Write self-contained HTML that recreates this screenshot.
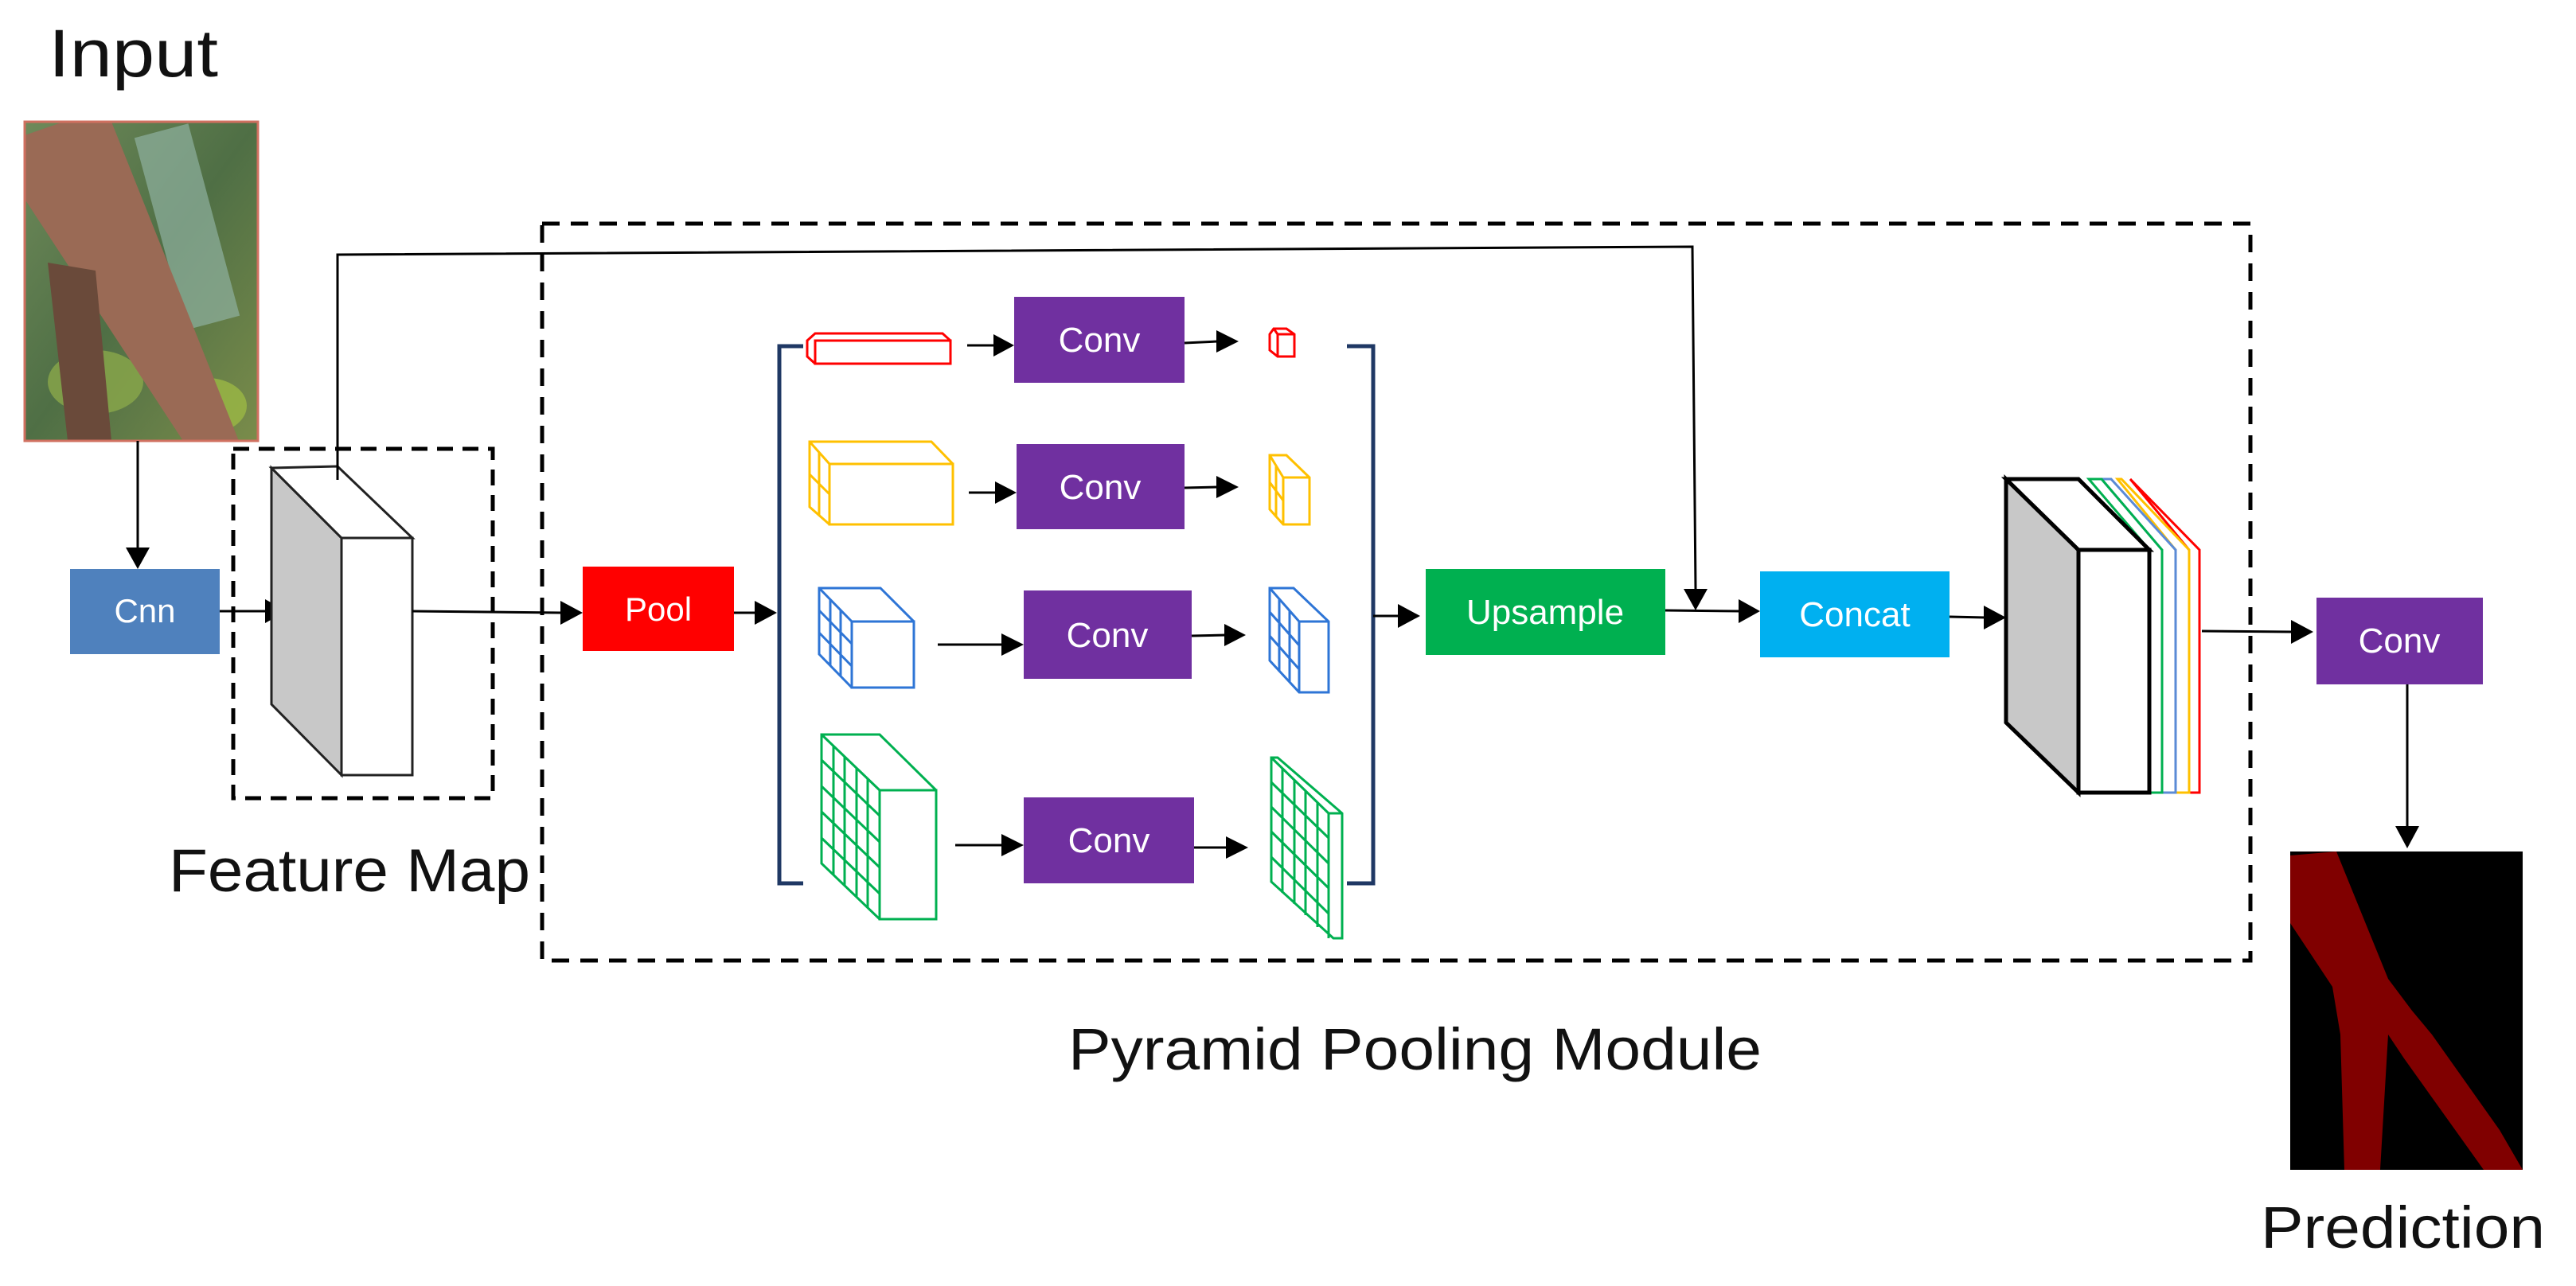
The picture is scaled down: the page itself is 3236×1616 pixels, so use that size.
<!DOCTYPE html>
<html><head><meta charset="utf-8"><style>
html,body{margin:0;padding:0;background:#fff;}
svg{display:block;}
text{font-family:"Liberation Sans",sans-serif;}
</style></head><body>
<svg width="3236" height="1616" viewBox="0 0 3236 1616" xmlns="http://www.w3.org/2000/svg">
<defs>
<linearGradient id="bg" x1="0" y1="0" x2="1" y2="1">
<stop offset="0" stop-color="#6f8a5a"/><stop offset="0.5" stop-color="#4f6f45"/><stop offset="1" stop-color="#7a8c4a"/>
</linearGradient>
</defs>
<!-- Labels -->
<text x="61" y="96" font-size="84" fill="#111" textLength="213" lengthAdjust="spacingAndGlyphs">Input</text>
<text x="212" y="1120" font-size="76" fill="#111" textLength="454" lengthAdjust="spacingAndGlyphs">Feature Map</text>
<text x="1342" y="1344" font-size="74" fill="#111" textLength="871" lengthAdjust="spacingAndGlyphs">Pyramid Pooling Module</text>
<text x="2840" y="1568" font-size="74" fill="#111" textLength="357" lengthAdjust="spacingAndGlyphs">Prediction</text>

<!-- Input image -->
<rect x="31" y="153" width="293" height="401" fill="url(#bg)"/>
<rect x="200" y="160" width="70" height="250" fill="#8fb0a0" opacity="0.7" transform="rotate(-15 235 285)"/>
<ellipse cx="120" cy="480" rx="60" ry="40" fill="#8aa84a" opacity="0.8"/>
<ellipse cx="260" cy="510" rx="50" ry="35" fill="#9bb845" opacity="0.8"/>
<polygon points="31,170 80,153 140,153 300,554 230,554 31,250" fill="#9a6a55"/>
<polygon points="60,330 120,340 140,554 85,554" fill="#6a4a3a"/>
<rect x="31" y="153" width="293" height="401" fill="none" stroke="#d07060" stroke-width="3"/>

<!-- arrow input -> cnn -->
<line x1="173" y1="554" x2="173" y2="690" stroke="#000" stroke-width="3"/>
<polygon points="158,688 188,688 173,715" fill="#000"/>
<rect x="88" y="715" width="188" height="107" fill="#4f81bd"/>
<text x="182" y="782" font-size="42" fill="#fff" text-anchor="middle">Cnn</text>
<line x1="276" y1="768" x2="335" y2="768" stroke="#000" stroke-width="3"/>
<polygon points="333,753 333,783 360,768" fill="#000"/>

<!-- feature map box -->
<rect x="293" y="564" width="326" height="439" fill="none" stroke="#000" stroke-width="5" stroke-dasharray="20,12"/>
<polygon points="341,588 429,676 429,974 341,885" fill="#c8c8c8" stroke="#222" stroke-width="3"/>
<polygon points="341,588 424,586 518,676 429,676" fill="#fff" stroke="#222" stroke-width="3"/>
<rect x="429" y="676" width="89" height="298" fill="#fff" stroke="#222" stroke-width="3"/>

<!-- skip connection -->
<polyline points="424,603 424,320 2126,310 2130,740" fill="none" stroke="#000" stroke-width="3"/>
<polygon points="2115,740 2145,740 2130,767" fill="#000"/>

<!-- big dashed box -->
<rect x="681" y="281" width="2146" height="926" fill="none" stroke="#000" stroke-width="5" stroke-dasharray="22,14"/>

<!-- block -> pool -->
<line x1="518" y1="768" x2="706" y2="770" stroke="#000" stroke-width="3"/>
<polygon points="704,755 704,785 732,770" fill="#000"/>
<rect x="732" y="712" width="190" height="106" fill="#ff0000"/>
<text x="827" y="780" font-size="42" fill="#fff" text-anchor="middle">Pool</text>
<line x1="922" y1="770" x2="950" y2="770" stroke="#000" stroke-width="3"/>
<polygon points="948,755 948,785 976,770" fill="#000"/>

<!-- brackets -->
<polyline points="1009,435 979,435 979,1110 1009,1110" fill="none" stroke="#1f3864" stroke-width="5"/>
<polyline points="1692,435 1725,435 1725,1110 1692,1110" fill="none" stroke="#1f3864" stroke-width="5"/>
<line x1="1725" y1="774" x2="1758" y2="774" stroke="#000" stroke-width="3"/>
<polygon points="1756,759 1756,789 1784,774" fill="#000"/>

<!-- row 1 red -->
<g fill="none" stroke="#ff0000" stroke-width="3">
<polygon points="1014,428 1024,419 1184,419 1194,428 1194,457 1024,457 1014,448"/>
<rect x="1024" y="428" width="170" height="29"/>
<polygon points="1595,420 1600,413 1616,413 1626,420 1626,448 1605,448 1595,440"/>
<line x1="1605" y1="420" x2="1626" y2="420"/><line x1="1605" y1="420" x2="1605" y2="448"/><line x1="1600" y1="413" x2="1605" y2="420"/>
</g>
<!-- row 2 yellow -->
<g fill="none" stroke="#ffc000" stroke-width="3">
<polygon points="1017,555 1170,555 1197,583 1197,659 1042,659 1017,637"/>
<rect x="1042" y="583" width="155" height="76"/>
<line x1="1017" y1="555" x2="1042" y2="583"/>
<line x1="1017" y1="596" x2="1042" y2="621"/>
<line x1="1029" y1="569" x2="1029" y2="648"/>
<polygon points="1595,572 1616,572 1645,600 1645,659 1612,659 1595,640"/>
<line x1="1612" y1="600" x2="1645" y2="600"/><line x1="1612" y1="600" x2="1612" y2="659"/><line x1="1595" y1="572" x2="1612" y2="600"/>
<line x1="1595" y1="606" x2="1612" y2="629"/><line x1="1603" y1="586" x2="1603" y2="650"/>
</g>
<!-- row 3 blue -->
<g fill="none" stroke="#2e75d6" stroke-width="3">
<polygon points="1029,739 1106,739 1148,781 1148,864 1070,864 1029,822"/>
<rect x="1070" y="781" width="78" height="83"/>
<line x1="1029" y1="739" x2="1070" y2="781"/>
<line x1="1029" y1="767" x2="1070" y2="809"/><line x1="1029" y1="795" x2="1070" y2="837"/>
<line x1="1043" y1="753" x2="1043" y2="836"/><line x1="1056" y1="767" x2="1056" y2="850"/>
<polygon points="1595,739 1625,739 1669,781 1669,870 1632,870 1595,830"/>
<line x1="1632" y1="781" x2="1669" y2="781"/><line x1="1632" y1="781" x2="1632" y2="870"/><line x1="1595" y1="739" x2="1632" y2="781"/>
<line x1="1595" y1="769" x2="1632" y2="811"/><line x1="1595" y1="799" x2="1632" y2="841"/>
<line x1="1607" y1="753" x2="1607" y2="844"/><line x1="1620" y1="767" x2="1620" y2="857"/>
</g>
<!-- row 4 green -->
<g fill="none" stroke="#00b050" stroke-width="3">
<polygon points="1032,923 1105,923 1176,993 1176,1155 1105,1155 1032,1085"/>
<rect x="1105" y="993" width="71" height="162"/>
<line x1="1032" y1="923" x2="1105" y2="993"/>
<line x1="1032" y1="955" x2="1105" y2="1025"/><line x1="1032" y1="988" x2="1105" y2="1058"/><line x1="1032" y1="1020" x2="1105" y2="1090"/><line x1="1032" y1="1053" x2="1105" y2="1123"/>
<line x1="1047" y1="937" x2="1047" y2="1099"/><line x1="1061" y1="951" x2="1061" y2="1113"/><line x1="1076" y1="965" x2="1076" y2="1127"/><line x1="1090" y1="979" x2="1090" y2="1141"/>
<polygon points="1597,952 1605,952 1686,1022 1686,1179 1675,1179 1597,1108"/>
<line x1="1669" y1="1022" x2="1686" y2="1022"/><line x1="1669" y1="1022" x2="1669" y2="1179"/><line x1="1597" y1="952" x2="1669" y2="1022"/>
<line x1="1597" y1="983" x2="1669" y2="1053"/><line x1="1597" y1="1014" x2="1669" y2="1085"/><line x1="1597" y1="1045" x2="1669" y2="1116"/><line x1="1597" y1="1077" x2="1669" y2="1148"/>
<line x1="1611" y1="966" x2="1611" y2="1122"/><line x1="1626" y1="980" x2="1626" y2="1136"/><line x1="1640" y1="994" x2="1640" y2="1150"/><line x1="1655" y1="1008" x2="1655" y2="1165"/>
</g>

<!-- conv boxes -->
<g fill="#7030a0">
<rect x="1274" y="373" width="214" height="108"/>
<rect x="1277" y="558" width="211" height="107"/>
<rect x="1286" y="742" width="211" height="111"/>
<rect x="1286" y="1002" width="214" height="108"/>
</g>
<g font-size="44" fill="#fff" text-anchor="middle">
<text x="1381" y="442">Conv</text>
<text x="1382" y="627">Conv</text>
<text x="1391" y="813">Conv</text>
<text x="1393" y="1071">Conv</text>
</g>
<!-- row arrows -->
<g stroke="#000" stroke-width="3">
<line x1="1215" y1="434" x2="1250" y2="434"/>
<line x1="1488" y1="431" x2="1530" y2="429"/>
<line x1="1217" y1="619" x2="1252" y2="619"/>
<line x1="1488" y1="613" x2="1530" y2="612"/>
<line x1="1178" y1="810" x2="1260" y2="810"/>
<line x1="1497" y1="799" x2="1540" y2="798"/>
<line x1="1200" y1="1062" x2="1260" y2="1062"/>
<line x1="1500" y1="1065" x2="1542" y2="1065"/>
</g>
<g fill="#000">
<polygon points="1248,420 1248,448 1274,434"/>
<polygon points="1528,415 1528,443 1556,429"/>
<polygon points="1250,605 1250,633 1277,619"/>
<polygon points="1528,598 1528,626 1556,612"/>
<polygon points="1258,796 1258,824 1286,810"/>
<polygon points="1538,784 1538,812 1565,798"/>
<polygon points="1258,1048 1258,1076 1286,1062"/>
<polygon points="1540,1051 1540,1079 1568,1065"/>
</g>

<!-- upsample -->
<rect x="1791" y="715" width="301" height="108" fill="#00b050"/>
<text x="1941" y="784" font-size="44" fill="#fff" text-anchor="middle">Upsample</text>
<line x1="2092" y1="767" x2="2186" y2="768" stroke="#000" stroke-width="3"/>
<polygon points="2184,753 2184,783 2211,768" fill="#000"/>
<rect x="2211" y="718" width="238" height="108" fill="#00b0f0"/>
<text x="2330" y="787" font-size="44" fill="#fff" text-anchor="middle">Concat</text>
<line x1="2449" y1="775" x2="2494" y2="776" stroke="#000" stroke-width="3"/>
<polygon points="2492,761 2492,791 2520,776" fill="#000"/>

<!-- stack -->
<g fill="#fff" stroke-width="3">
<polygon points="2676,602 2763,691 2763,996 2750,996 2750,691 2676,602" fill="none" stroke="#ff0000"/>
<polygon points="2665,602 2750,691 2750,996 2733,996 2733,691 2660,602" fill="none" stroke="#ffc000"/>
<polygon points="2652,602 2733,691 2733,996 2716,996 2716,691 2640,602" fill="none" stroke="#5b8bd6"/>
<polygon points="2640,602 2716,691 2716,996 2700,996 2700,691 2624,602" fill="none" stroke="#00b050"/>
</g>
<polygon points="2520,602 2611,691 2611,996 2520,908" fill="#c8c8c8" stroke="#000" stroke-width="5"/>
<polygon points="2520,602 2611,602 2700,691 2611,691" fill="#fff" stroke="#000" stroke-width="5"/>
<rect x="2611" y="691" width="89" height="305" fill="#fff" stroke="#000" stroke-width="5"/>
<line x1="2766" y1="793" x2="2880" y2="794" stroke="#000" stroke-width="3"/>
<polygon points="2878,779 2878,809 2906,794" fill="#000"/>
<rect x="2910" y="751" width="209" height="109" fill="#7030a0"/>
<text x="3014" y="820" font-size="44" fill="#fff" text-anchor="middle">Conv</text>
<line x1="3024" y1="860" x2="3024" y2="1040" stroke="#000" stroke-width="3"/>
<polygon points="3009,1038 3039,1038 3024,1066" fill="#000"/>

<!-- prediction -->
<rect x="2877" y="1070" width="292" height="400" fill="#000"/>
<polygon points="2877,1075 2935,1070 3000,1230 3030,1270 3055,1300 3140,1420 3169,1470 3120,1470 3020,1330 3000,1300 2990,1470 2945,1470 2940,1300 2930,1240 2877,1160" fill="#800000"/>
</svg>
</body></html>
